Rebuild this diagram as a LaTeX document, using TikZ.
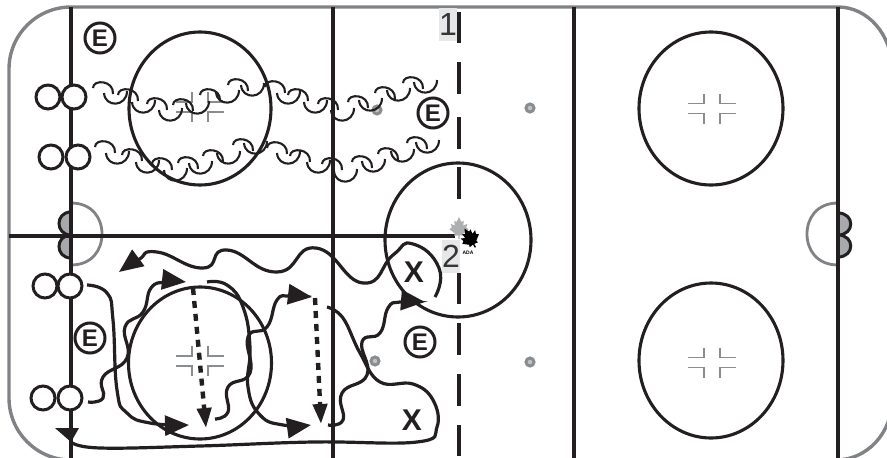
\documentclass[tikz,border=0pt]{standalone}
\usepackage{fontspec}
\setmainfont{Liberation Sans}
\usetikzlibrary{arrows.meta,calc}
\definecolor{ink}{HTML}{231F20}
\definecolor{boardgray}{HTML}{808285}
\definecolor{netgray}{HTML}{A7A9AC}
\definecolor{markgray}{HTML}{8A8D8F}
\definecolor{boxgray}{HTML}{E6E7E8}
\tikzset{
  rinkline/.style={draw=ink,line width=3.4pt},
  board/.style={draw=boardgray,line width=3.4pt},
  crease/.style={draw=boardgray,line width=2.8pt},
  net/.style={draw=ink,fill=netgray,line width=3pt},
  faceoff/.style={draw=ink,line width=3.1pt},
  hash/.style={draw=markgray,line width=1.2pt},
  dotmark/.style={circle,draw=markgray,fill=boxgray!60!markgray,line width=3pt,minimum size=8pt,inner sep=0pt},
  player/.style={circle,draw=ink,fill=white,line width=3pt,minimum size=24pt,inner sep=0pt},
  ecircle/.style={circle,draw=ink,fill=white,line width=3pt,minimum size=30pt,inner sep=0pt,text=ink,font=\fontsize{24}{24}\selectfont\bfseries},
  xmark/.style={inner sep=0pt,text=ink,font=\fontsize{30}{30}\selectfont\bfseries},
  numbox/.style={fill=boxgray,text=ink!90,inner sep=0pt,minimum width=18pt,minimum height=33pt,font=\fontsize{32}{32}\selectfont},
  hook/.style={draw=ink,line width=2.1pt},
  skate/.style={draw=ink,line width=3.2pt,line cap=butt},
  skatearrow/.style={skate,-{Triangle[length=24pt,width=20pt]}},
  pass/.style={draw=ink,line width=4.4pt,dash pattern=on 7pt off 6pt,-{Triangle[length=20pt,width=14pt]}}
}
\newcommand{\hooklist}[1]{%
  \foreach \hx/\hy [count=\hi] in {#1}{%
    \ifodd\hi
      \draw[hook] (\hx-10,\hy+5) .. controls (\hx-10,\hy-4) and (\hx+11,\hy-3) .. (\hx+10,\hy+11);
    \else
      \draw[hook] (\hx-11,\hy-10) .. controls (\hx-10,\hy+5) and (\hx+12,\hy+4) .. (\hx+12,\hy-12);
    \fi
  }%
}
\newcommand{\hashmark}[2]{%
  \draw[hash] (#1-24,#2-5) -- (#1-8,#2-5) -- (#1-8,#2-15);
  \draw[hash] (#1+24,#2-5) -- (#1+8,#2-5) -- (#1+8,#2-15);
  \draw[hash] (#1-24,#2+5) -- (#1-8,#2+5) -- (#1-8,#2+15);
  \draw[hash] (#1+24,#2+5) -- (#1+8,#2+5) -- (#1+8,#2+15);
}
\newcommand{\mapleleaf}[4]{%
  \fill[#3,shift={(#1,#2)},rotate=#4,scale=1.2] (0,-9) -- (2,-5) -- (4,-6) -- (3.5,-2) -- (7,-3.5) -- (6,-0.5) -- (8,1) -- (3.5,4.5) -- (4,6.5) -- (0.6,6) -- (0.6,9) -- (-0.6,9) -- (-0.6,6) -- (-4,6.5) -- (-3.5,4.5) -- (-8,1) -- (-6,-0.5) -- (-7,-3.5) -- (-3.5,-2) -- (-4,-6) -- (-2,-5) -- cycle;
}
\begin{document}
\begin{tikzpicture}[x=1pt,y=-1pt]
\useasboundingbox (0,0) rectangle (887,458);
\clip (0,0) rectangle (887,458);
% rink
\draw[board] (838,7) -- (71,7) arc[start angle=90,end angle=180,radius=62pt] -- (9,398) arc[start angle=180,end angle=270,radius=62pt] -- (838,460);
\draw[board] (838,7) arc[start angle=90,end angle=0,x radius=54pt,y radius=62pt] -- (892,400) arc[start angle=0,end angle=-90,x radius=56pt,y radius=60pt];
% creases and nets
\draw[crease] (71,203) .. controls (92,203) and (102,218) .. (102,234) .. controls (102,250) and (92,265) .. (71,265);
\draw[crease] (838,203) .. controls (817,203) and (807,218) .. (807,234) .. controls (807,250) and (817,265) .. (838,265);
\draw[net] (71,212) .. controls (55,212) and (55,235) .. (71,235) .. controls (55,235) and (55,258) .. (71,258) -- cycle;
\draw[net] (838,213) .. controls (855,213) and (855,235) .. (838,235) .. controls (855,235) and (855,257) .. (838,257) -- cycle;
% lines
\foreach \lx in {71,333,574,838}{\draw[rinkline] (\lx,7) -- (\lx,458);}
\foreach \dy/\dz in {12/43,62/94,117/149,167/199,273/304,323/355,374/406,425/456}{\draw[rinkline] (459,\dy) -- (459,\dz);}
\draw[draw=ink,line width=4.4pt] (9,236) -- (455,236);
% faceoff circles
\draw[faceoff] (200,108.5) circle[x radius=71pt,y radius=76.5pt];
\draw[faceoff] (200,363) circle[x radius=71.5pt,y radius=76pt];
\draw[faceoff] (458,240) circle[x radius=73pt,y radius=77pt];
\draw[faceoff] (711,108.5) circle[x radius=72pt,y radius=76.5pt];
\draw[faceoff] (711,360.5) circle[x radius=72pt,y radius=77.5pt];
\hashmark{200}{107}
\hashmark{200}{361}
\hashmark{712}{108.5}
\hashmark{712}{362.5}
\node[dotmark] (d1) at (377,110) {};
\node[dotmark] (d2) at (530,108) {};
\node[dotmark] (d3) at (375,361) {};
\node[dotmark] (d4) at (530,362) {};
% logo
\mapleleaf{459}{228}{markgray!70}{0}
\mapleleaf{470}{238}{black}{30}
\node[inner sep=0pt,font=\fontsize{5}{5}\selectfont\bfseries] (logotext) at (468,253) {ADA};
% number boxes
\node[numbox] (n1) at (448,24.5) {1};
\node[numbox] (n2) at (451,256) {2};
% players
\node[player] (a1) at (48,97) {};
\node[player] (a2) at (74,97) {};
\node[player] (b1) at (51,157) {};
\node[player] (b2) at (78,157) {};
\node[player] (c1) at (45,286) {};
\node[player] (c2) at (70,286) {};
\node[player] (e1) at (43,398) {};
\node[player] (e2) at (70,398) {};
% E and X
\node[ecircle] (E1) at (100,38) {E};
\node[ecircle] (E2) at (433,113) {E};
\node[ecircle] (E3) at (90,338) {E};
\node[ecircle] (E4) at (420,342) {E};
\node[xmark] (X1) at (414,272) {X};
\node[xmark] (X2) at (412,420) {X};
% scalloped skating lines
\hooklist{103/83,115/103,128/90,143/112,157/99,170/120,183/100,197/113,210/90,227/102,238/80,252/95,275/82,288/103,298/90,315/112,328/99,342/120,358/97,370/110,385/88,398/100,413/78,425/92}
\hooklist{105/142,117/163,132/150,147/172,162/159,175/180,188/158,200/173,213/151,228/163,243/140,255/153,277/143,288/163,300/151,318/172,332/159,345/181,362/157,373/171,388/149,402/161,417/138,427/152}
% curves
\coordinate (s1) at (435,297);
\coordinate (t1) at (119,272);
\draw[skatearrow] plot[smooth,tension=0.9] coordinates {(s1) (439,268) (413,244) (393,255) (363,283) (316,248) (277,272) (227,250) (203,268) (157,252) (138,260) (t1)};
\coordinate (s2) at (87,285);
\coordinate (t2) at (189,425);
\draw[skatearrow] plot[smooth,tension=0.8] coordinates {(s2) (107,293) (113,320) (117,390) (127,413) (150,423) (t2)};
\coordinate (s3) at (88,402);
\coordinate (t3) at (186,282);
\draw[skatearrow] plot[smooth,tension=0.8] coordinates {(s3) (103,398) (103,377) (127,358) (125,327) (143,312) (151,288) (166,282) (t3)};
\coordinate (s4) at (193,288);
\coordinate (t4) at (206,428);
\draw[pass] (s4) -- (t4);
\coordinate (s5) at (207,282);
\coordinate (t5) at (311,425);
\draw[skatearrow] plot[smooth,tension=0.8] coordinates {(s5) (227,285) (243,307) (250,347) (248,387) (260,415) (283,425) (t5)};
\coordinate (s6) at (215,419);
\coordinate (t6) at (312,297);
\draw[skatearrow] plot[smooth,tension=0.8] coordinates {(s6) (228,412) (228,387) (250,373) (248,337) (267,327) (277,300) (290,296) (t6)};
\coordinate (s7) at (315,298);
\coordinate (t7) at (321,424);
\draw[pass] (s7) -- (t7);
\coordinate (s8) at (327,307);
\coordinate (t8) at (71,442);
\draw[skate] plot[smooth,tension=0.7] coordinates {(s8) (343,318) (360,353) (380,382) (413,384) (433,400) (437,427) (417,442) (313,442) (200,446) (100,448) (t8)};
\fill[ink] (55,428) -- (79,428) -- (t8) -- cycle;
\coordinate (s9) at (328,425);
\coordinate (t9) at (425,302);
\draw[skatearrow] plot[smooth,tension=0.8] coordinates {(s9) (343,420) (342,393) (367,375) (362,342) (380,333) (388,308) (400,302) (t9)};
\end{tikzpicture}
\end{document}
